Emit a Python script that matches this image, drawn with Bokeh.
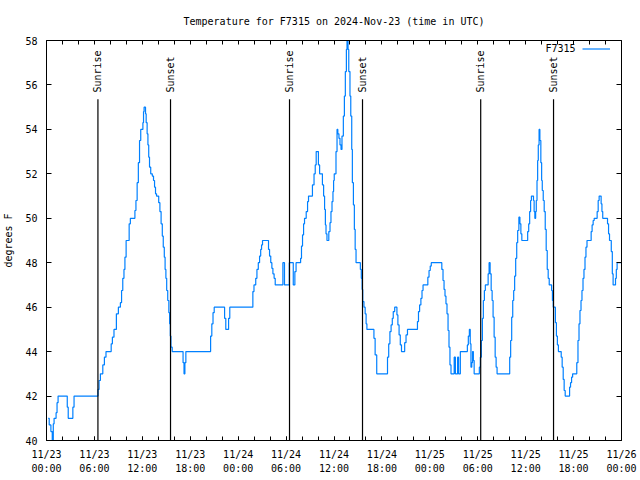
import math
from bokeh.plotting import figure
from bokeh.models import (LinearAxis, FixedTicker, Range1d, Legend, LegendItem,
                          ColumnDataSource, Label)
from bokeh.core.properties import value
from bokeh.embed import file_html
from bokeh.resources import INLINE

# ---------------- data ----------------
# hours since 2024-11-23 00:00 UTC, temperature (degrees F)
hours = [0.21, 0.34, 0.55, 0.72, 0.85, 0.95, 1.2, 1.32, 1.45, 2.6, 2.72, 3.3, 3.45,
         6.45, 6.58, 6.75, 7.05, 7.25, 7.45, 8.1, 8.25, 8.45, 8.75, 9.0, 9.25, 9.4,
         9.55, 9.7, 9.82, 9.97, 10.35, 10.5, 11.07, 11.2, 11.35, 11.5, 11.65, 11.8,
         12.07, 12.15, 12.22, 12.4, 12.48, 12.6, 12.7, 12.8, 12.9, 13.05, 13.25, 13.4,
         13.53, 13.65, 13.78, 14.05, 14.2, 14.35, 14.5, 14.62, 14.75, 14.85, 14.95,
         15.05, 15.18, 15.32, 15.42, 15.5, 15.58, 15.74, 17.1, 17.22, 17.33, 17.45,
         20.55, 20.7, 20.85, 21.0, 22.3, 22.45, 22.8, 22.95, 25.84, 25.98, 26.2, 26.35,
         26.52, 26.68, 26.82, 26.93, 27.05, 27.8, 27.93, 28.08, 28.22, 28.35, 28.5,
         28.64, 29.6, 29.8, 30.4, 30.9, 31.1, 31.25, 31.82, 31.93, 32.06, 32.19, 32.31,
         32.52, 32.69, 32.81, 33.3, 33.5, 33.65, 33.77, 34.05, 34.2, 34.55, 34.7, 34.82,
         34.92, 35.0, 35.12, 35.35, 35.5, 35.62, 35.75, 35.87, 35.95, 36.03, 36.25,
         36.38, 36.48, 36.62, 36.75, 36.88, 37.0, 37.17, 37.3, 37.42, 37.55, 37.63,
         37.76, 37.85, 38.0, 38.1, 38.22, 38.3, 38.43, 38.55, 38.65, 38.76, 39.3, 39.42,
         39.52, 39.6, 39.75, 39.9, 40.02, 40.12, 41.0, 41.15, 41.35, 42.7, 42.85, 43.0,
         43.15, 43.3, 43.42, 43.6, 43.88, 44.0, 44.15, 44.3, 44.45, 44.85, 45.02, 45.2,
         46.45, 46.58, 46.72, 46.88, 47.02, 47.15, 47.75, 47.9, 48.05, 48.18, 49.5,
         49.65, 49.78, 49.9, 50.02, 50.15, 50.28, 50.4, 50.52, 50.65, 51.05, 51.2,
         51.48, 51.6, 51.82, 52.7, 52.82, 52.95, 53.06, 53.15, 53.25, 53.35, 53.45,
         53.55, 54.2, 54.32, 54.45, 54.58, 54.7, 54.83, 54.95, 55.3, 55.42, 55.55,
         55.68, 55.8, 55.92, 56.05, 56.18, 56.3, 56.42, 58.0, 58.12, 58.25, 58.38,
         58.5, 58.62, 58.75, 58.88, 59.0, 59.15, 59.28, 59.4, 59.52, 60.25, 60.38,
         60.5, 60.62, 60.72, 60.98, 61.06, 61.15, 61.25, 61.33, 61.42, 61.5, 61.58,
         61.68, 61.78, 61.9, 62.0, 62.08, 62.2, 62.32, 62.45, 62.57, 62.7, 62.82,
         62.95, 63.25, 63.35, 63.45, 63.72, 63.85, 63.97, 64.1, 64.45, 64.57, 64.7,
         64.82, 64.95, 65.5, 65.62, 65.75, 65.88, 66.4, 66.55, 66.68, 66.8, 66.93,
         67.05, 67.18, 67.3, 67.43, 67.55, 67.68, 68.2, 68.32, 68.45, 68.58, 68.95,
         69.08, 69.2, 69.45, 69.55, 69.65, 70.25, 70.38, 70.5, 70.72, 70.85, 70.95,
         71.25, 71.35, 71.45, 72.0]
temps = [41.0, 40.7, 40.4, 40.0, 40.75, 41.0, 41.25, 41.7, 42.0, 41.5, 41.0, 41.5, 42.0,
         42.3, 42.7, 43.0, 43.4, 43.75, 44.0, 44.35, 44.65, 45.0, 45.7, 46.0, 46.2, 46.75,
         47.3, 47.7, 48.25, 49.0, 49.75, 50.0, 50.35, 50.8, 51.6, 52.5, 53.5, 54.0,
         54.3, 54.8, 55.0, 54.7, 54.3, 53.8, 53.3, 52.75, 52.3, 52.0, 51.9, 51.7,
         51.4, 51.1, 51.0, 50.7, 50.3, 49.75, 49.2, 48.7, 48.25, 47.7, 47.3,
         46.75, 46.3, 45.75, 45.25, 44.7, 44.2, 44.0, 43.5, 43.0, 43.5, 44.0,
         44.7, 45.25, 45.75, 46.0, 45.5, 45.0, 45.5, 46.0, 46.7, 47.0, 47.3, 47.7,
         48.0, 48.3, 48.6, 48.8, 49.0, 48.6, 48.3, 48.0, 47.75, 47.5, 47.3,
         47.0, 48.0, 47.0, 48.0, 47.0, 47.6, 48.0, 48.2, 48.75, 49.25, 49.75, 50.0,
         50.3, 50.75, 51.0, 51.5, 52.0, 52.4, 53.0, 52.4, 52.0, 51.5, 51.0, 50.4,
         49.7, 49.3, 49.0, 49.4, 49.8, 50.3, 50.75, 51.2, 51.7, 52.0, 53.0,
         54.0, 53.8, 53.6, 53.3, 53.1, 53.7, 54.6, 55.5, 56.6, 57.6, 58.0,
         57.6, 56.6, 55.5, 54.6, 53.1, 51.6, 50.6, 49.5, 48.6, 48.0, 47.7, 47.3,
         46.8, 46.25, 46.0, 45.7, 45.25, 45.0, 44.6, 43.85, 43.0, 43.75, 44.35, 44.9,
         45.2, 45.5, 45.8, 46.0, 45.65, 45.2, 44.75, 44.3, 44.0, 44.4, 44.75, 45.0,
         45.35, 45.8, 46.1, 46.4, 46.75, 47.0, 47.35, 47.65, 47.85, 48.0, 47.7,
         47.2, 46.8, 46.5, 46.15, 45.7, 44.95, 44.2, 43.4, 43.0, 43.75, 43.0,
         43.75, 43.0, 44.0, 44.3, 44.7, 45.0, 44.35, 43.3, 43.5, 44.0, 43.6,
         43.0, 43.3, 43.75, 44.5, 45.5, 46.3, 46.75, 47.0, 47.5, 48.0, 47.5,
         46.75, 46.3, 45.55, 44.65, 43.75, 43.3, 43.0, 43.75, 44.5, 45.55, 46.3,
         46.75, 47.4, 48.2, 48.9, 49.45, 50.05, 49.75, 49.3, 49.0, 49.4, 49.75,
         50.3, 50.8, 51.0, 50.8, 50.3, 50.0, 50.3, 50.8, 51.7, 52.6, 53.3,
         54.0, 53.5, 52.5, 51.7, 51.25, 50.8, 50.3, 49.5, 48.55, 47.7, 47.3,
         47.0, 46.75, 46.3, 46.0, 45.3, 44.7, 44.3, 44.0, 43.75, 43.3, 42.75,
         42.25, 42.0, 42.4, 42.6, 42.85, 43.0, 43.5, 44.5, 45.25, 45.85, 46.3,
         46.75, 47.3, 47.7, 48.25, 48.7, 49.0, 49.4, 49.7, 49.9, 50.0, 50.3,
         50.8, 51.0, 50.65, 50.3, 50.0, 49.75, 49.3, 49.0, 48.5, 47.5, 47.0,
         47.3, 47.7, 48.0, 48.0]

sun_hours = [6.44, 15.53, 30.43, 39.57, 54.37, 63.49]
sun_names = ["Sunrise", "Sunset", "Sunrise", "Sunset", "Sunrise", "Sunset"]

x_tick_hours = [0, 6, 12, 18, 24, 30, 36, 42, 48, 54, 60, 66, 72]
x_tick_labels = ["11/23\n00:00", "11/23\n06:00", "11/23\n12:00", "11/23\n18:00",
                 "11/24\n00:00", "11/24\n06:00", "11/24\n12:00", "11/24\n18:00",
                 "11/25\n00:00", "11/25\n06:00", "11/25\n12:00", "11/25\n18:00",
                 "11/26\n00:00"]
y_ticks = [40, 42, 44, 46, 48, 50, 52, 54, 56, 58]

series_name = "F7315"
title_text = "Temperature for F7315 on 2024-Nov-23 (time in UTC)"
y_label = "degrees F"

# ---------------- style ----------------
FONT = "DejaVu Sans Mono"
FS = "10px"
BLUE = "#0080ff"
X0, X1 = 0, 72
Y0, Y1 = 40, 58
marker_top = Y0 + 0.853 * (Y1 - Y0)
label_bottom = Y0 + 0.87 * (Y1 - Y0)

p = figure(width=640, height=480, output_backend="svg", toolbar_location=None,
           x_range=Range1d(X0, X1), y_range=Range1d(Y0, Y1),
           min_border_left=46, min_border_right=19, min_border_top=40,
           min_border_bottom=40)
p.background_fill_color = "white"
p.border_fill_color = "white"
p.outline_line_color = None
p.xgrid.visible = False
p.ygrid.visible = False

p.title.text = title_text
p.title.align = "center"
p.title.text_font = FONT
p.title.text_font_size = FS
p.title.text_font_style = "normal"
p.title.text_color = "black"
p.title.standoff = 27

minor_x = list(range(X0, X1 + 1, 2))
overrides = {h: lab for h, lab in zip(x_tick_hours, x_tick_labels)}


def style_axis(ax, ticks, minor, tick_len):
    ax.ticker = FixedTicker(ticks=ticks, minor_ticks=minor)
    ax.axis_line_color = "black"
    ax.axis_line_width = 1
    ax.major_tick_line_color = "black"
    ax.minor_tick_line_color = "black"
    ax.major_tick_in = tick_len
    ax.major_tick_out = 0
    ax.minor_tick_in = tick_len
    ax.minor_tick_out = 0
    ax.major_label_text_font = FONT
    ax.major_label_text_font_size = FS
    ax.major_label_text_color = "black"


xa = p.xaxis[0]
style_axis(xa, x_tick_hours, minor_x, 4)
xa.major_label_overrides = overrides
xa.major_label_standoff = 8
xa.major_label_text_line_height = 1.35

ya = p.yaxis[0]
style_axis(ya, y_ticks, [], 5)
ya.major_label_standoff = 9
ya.axis_label = y_label
ya.axis_label_text_font = FONT
ya.axis_label_text_font_size = FS
ya.axis_label_text_font_style = "normal"
ya.axis_label_text_color = "black"
ya.axis_label_standoff = 8

# mirrored tick marks on the top and right edges (minor ticks only -> no labels)
top = LinearAxis()
style_axis(top, [], minor_x, 4)
p.add_layout(top, "above")

right = LinearAxis()
style_axis(right, [], y_ticks, 5)
p.add_layout(right, "right")

# temperature trace
src = ColumnDataSource(dict(h=hours, t=temps))
r = p.step("h", "t", source=src, mode="after", line_color=BLUE, line_width=1.2)

# sunrise / sunset markers
sun = ColumnDataSource(dict(h=sun_hours, name=sun_names,
                            y0=[Y0] * len(sun_hours), y1=[marker_top] * len(sun_hours),
                            yl=[label_bottom] * len(sun_hours)))
p.segment(x0="h", y0="y0", x1="h", y1="y1", source=sun, line_color="black", line_width=1.2)
p.text(x="h", y="yl", text="name", source=sun, angle=math.pi / 2,
       text_align="left", text_baseline="middle", text_font=value(FONT),
       text_font_size=FS, text_color="black")

# key: gnuplot style, text to the left of the line sample
legend = Legend(items=[LegendItem(label=" ", renderers=[r])],
                location="top_right", border_line_color=None,
                background_fill_alpha=0, label_text_font=FONT,
                label_text_font_size="6px", glyph_width=28, glyph_height=7,
                label_width=0, label_standoff=6, margin=5, padding=0, spacing=0)
p.add_layout(legend)
p.add_layout(Label(x=529, y=392, x_units="screen", y_units="screen",
                   text=series_name, text_align="right", text_baseline="middle",
                   text_font=FONT, text_font_size=FS, text_color="black"))

open("out.html", "w").write(file_html(p, INLINE))
